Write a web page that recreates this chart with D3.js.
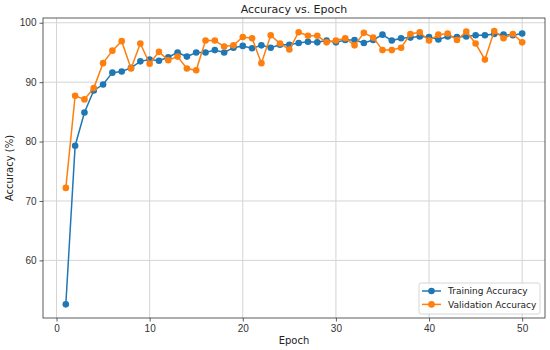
<!DOCTYPE html>
<html>
<head>
<meta charset="utf-8">
<script src="https://cdn.jsdelivr.net/npm/d3@7"></script>
<style>
  body { margin: 0; background: #fff; }
  svg { display: block; font-family: "DejaVu Sans", sans-serif; }
  .grid line { stroke: #d4d4d4; stroke-width: 1; }
  .tick text { fill: #333; font-size: 10px; }
</style>
</head>
<body>
<svg id="chart" width="550" height="350"></svg>
<script>
  // epochs 1..50
  const epochs = d3.range(1, 51);
  const trainAcc = [52.6, 79.3, 84.9, 88.6, 89.6, 91.6, 91.8, 92.4, 93.5, 93.8,
    93.6, 94.2, 95.0, 94.3, 95.0, 95.0, 95.4, 95.0, 95.8, 96.1,
    95.7, 96.2, 95.8, 96.3, 96.3, 96.6, 96.8, 96.7, 97.0, 96.7,
    97.1, 97.1, 96.6, 97.1, 98.0, 97.0, 97.4, 97.5, 97.7, 97.6,
    97.2, 97.7, 97.6, 97.7, 97.9, 97.9, 98.1, 98.0, 97.9, 98.2];
  const valAcc = [72.2, 87.7, 87.1, 89.0, 93.2, 95.3, 96.9, 92.3, 96.5, 93.1,
    95.1, 93.7, 94.3, 92.3, 92.0, 97.0, 97.0, 96.0, 96.2, 97.6,
    97.4, 93.2, 97.9, 96.5, 95.5, 98.4, 97.8, 97.8, 96.7, 97.0,
    97.4, 96.2, 98.3, 97.5, 95.4, 95.4, 95.8, 98.1, 98.4, 97.0,
    98.0, 98.2, 97.1, 98.5, 96.5, 93.8, 98.6, 97.4, 98.1, 96.7];
  const xTicks = [0, 10, 20, 30, 40, 50];
  const yTicks = [60, 70, 80, 90, 100];
  const series = [
    {name: 'Training Accuracy', values: trainAcc, color: '#1f77b4'},
    {name: 'Validation Accuracy', values: valAcc, color: '#ff7f0e'}
  ];

  const svg = d3.select('#chart');
  const margin = {left: 43, right: 5, top: 18, bottom: 32};
  const W = 550, H = 350;

  const x = d3.scaleLinear().domain([-1.45, 52.45]).range([margin.left, W - margin.right]);
  const y = d3.scaleLinear().domain([50.3, 100.8]).range([H - margin.bottom, margin.top]);

  // grid
  const grid = svg.append('g').attr('class', 'grid');
  grid.selectAll('.gx').data(xTicks).join('line')
    .attr('x1', d => x(d)).attr('x2', d => x(d))
    .attr('y1', margin.top).attr('y2', H - margin.bottom);
  grid.selectAll('.gy').data(yTicks).join('line')
    .attr('x1', margin.left).attr('x2', W - margin.right)
    .attr('y1', d => y(d)).attr('y2', d => y(d));

  // axes
  const xAxis = svg.append('g')
    .attr('transform', `translate(0,${H - margin.bottom})`)
    .call(d3.axisBottom(x).tickValues(xTicks).tickSize(3.5).tickPadding(3));
  const yAxis = svg.append('g')
    .attr('transform', `translate(${margin.left},0)`)
    .call(d3.axisLeft(y).tickValues(yTicks).tickSize(3.5).tickPadding(3));
  [xAxis, yAxis].forEach(a => {
    a.select('.domain').remove();
    a.selectAll('.tick line').attr('stroke', '#333').attr('stroke-width', 0.8);
  });

  // frame
  svg.append('rect')
    .attr('x', margin.left).attr('y', margin.top)
    .attr('width', W - margin.left - margin.right)
    .attr('height', H - margin.top - margin.bottom)
    .attr('fill', 'none').attr('stroke', '#333').attr('stroke-width', 0.8);

  const line = d3.line().x((d, i) => x(epochs[i])).y(d => y(d));

  series.forEach(s => {
    const g = svg.append('g');
    g.append('path').attr('d', line(s.values))
      .attr('fill', 'none').attr('stroke', s.color).attr('stroke-width', 1.5);
    g.selectAll('circle').data(s.values).join('circle')
      .attr('cx', (d, i) => x(epochs[i])).attr('cy', d => y(d))
      .attr('r', 3.3).attr('fill', s.color);
  });

  // labels
  svg.append('text').attr('x', (margin.left + W - margin.right) / 2).attr('y', 13)
    .attr('text-anchor', 'middle').attr('font-size', 11).attr('fill', '#222')
    .text('Accuracy vs. Epoch');
  svg.append('text').attr('x', (margin.left + W - margin.right) / 2).attr('y', 344)
    .attr('text-anchor', 'middle').attr('font-size', 10).attr('fill', '#222')
    .text('Epoch');
  svg.append('text')
    .attr('transform', `translate(13,${(margin.top + H - margin.bottom) / 2}) rotate(-90)`)
    .attr('text-anchor', 'middle').attr('font-size', 10).attr('fill', '#222')
    .text('Accuracy (%)');

  // legend
  const lg = svg.append('g').attr('transform', 'translate(419,283)');
  lg.append('rect').attr('width', 121).attr('height', 31).attr('rx', 2)
    .attr('fill', 'rgba(255,255,255,0.8)').attr('stroke', '#ccc').attr('stroke-width', 0.8);
  series.forEach((s, i) => {
    const row = lg.append('g').attr('transform', `translate(0,${8 + i * 13.4})`);
    row.append('line').attr('x1', 3).attr('x2', 22)
      .attr('stroke', s.color).attr('stroke-width', 1.5);
    row.append('circle').attr('cx', 12.5).attr('r', 3.3).attr('fill', s.color);
    row.append('text').attr('x', 29).attr('dy', '0.35em')
      .attr('font-size', 9).attr('fill', '#222').text(s.name);
  });
</script>
</body>
</html>
